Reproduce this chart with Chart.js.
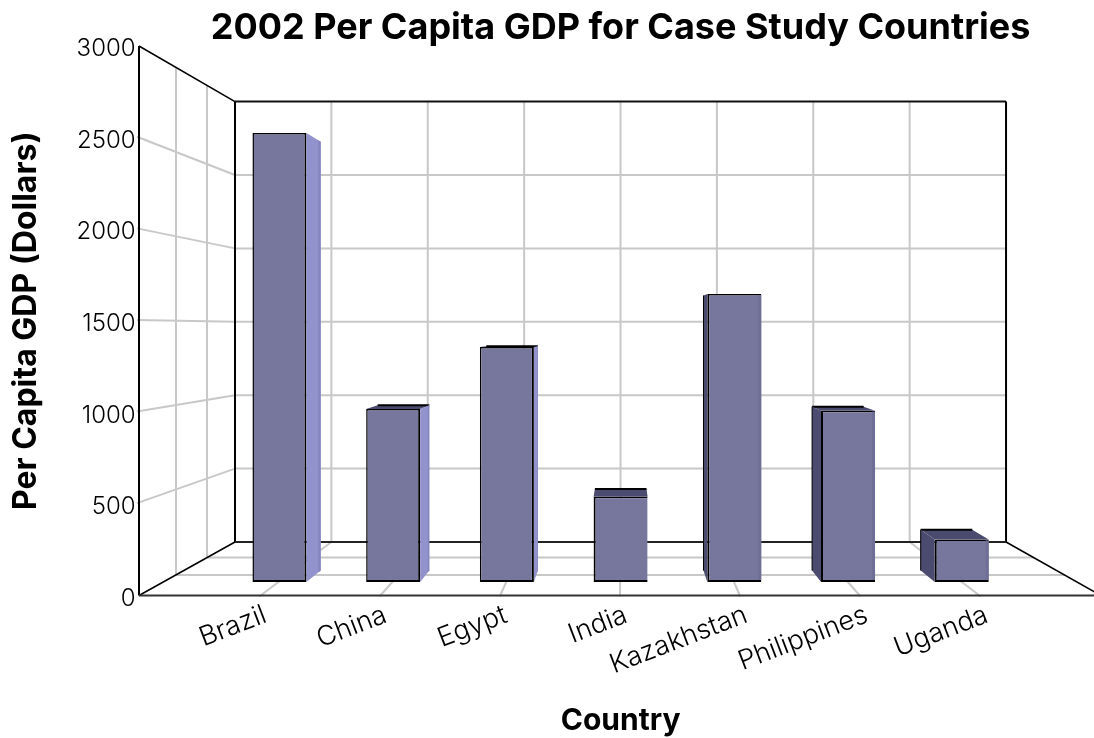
<!DOCTYPE html>
<html>
<head>
<meta charset="utf-8">
<title>2002 Per Capita GDP</title>
<script src="https://cdn.jsdelivr.net/npm/chart.js@4"></script>
<style>
  html, body { margin: 0; padding: 0; background: #fff; overflow: hidden; }
  canvas { display: block; }
</style>
</head>
<body>
<canvas id="chart-gdp" width="1094" height="738"></canvas>
<script>
/* eslint-disable no-undef */
const countries = ['Brazil', 'China', 'Egypt', 'India', 'Kazakhstan', 'Philippines', 'Uganda']
const gdpPerCapita = [2580, 995, 1350, 490, 1655, 985, 245]
const gdpTicks = [0, 500, 1000, 1500, 2000, 2500, 3000]

const TICK_FONT = 'Inter'
const HEADING_FONT = 'Inter'

// perspective frame: everything recedes towards this point
const vanishX = 622.6
const vanishY = 326
const frontLeft = 139
const frontStep = 120.25
const frontBands = 8
const wallDepths = [1, 0.9235, 0.8594, 0.8015]
const barPlane = 0.95 // depth of the bar front faces
const barBack = 0.955 // bar back face relative to its front face
const sideBand = 0.963 // where the darker back strip of a side face starts

const plotTop = 46
const plotBottom = 595.5
const GRID = '#c8c8c8'

// bars live on a plane behind the front axis, so they get their own y range
function barAxisValue (pixel) {
  const front = (plotBottom - vanishY) - (pixel - vanishY) / barPlane
  return front * gdpTicks[gdpTicks.length - 1] / (plotBottom - plotTop)
}

function toDepth (x, y, depth) {
  return [vanishX + (x - vanishX) * depth, vanishY + (y - vanishY) * depth]
}

function segment (ctx, from, to, color, width) {
  ctx.beginPath()
  ctx.moveTo(from[0], from[1])
  ctx.lineTo(to[0], to[1])
  ctx.strokeStyle = color
  ctx.lineWidth = width
  ctx.stroke()
}

function face (ctx, points, color) {
  ctx.beginPath()
  points.forEach((p, i) => i ? ctx.lineTo(p[0], p[1]) : ctx.moveTo(p[0], p[1]))
  ctx.closePath()
  ctx.fillStyle = color
  ctx.fill()
}

const roomPlugin = {
  id: 'room',
  afterLayout (chart) {
    // the heading is a little wider than the plot, let it overhang both sides
    chart.titleBlock.left -= 20
    chart.titleBlock.right += 20
  },
  beforeDatasetsDraw (chart) {
    const ctx = chart.ctx
    const yAxis = chart.scales.y
    const frontRight = frontLeft + frontStep * frontBands
    const back = wallDepths[wallDepths.length - 1]
    const top = yAxis.getPixelForValue(gdpTicks[gdpTicks.length - 1])
    const bottom = yAxis.getPixelForValue(0)
    const backTL = toDepth(frontLeft, top, back)
    const backBL = toDepth(frontLeft, bottom, back)
    const backBR = toDepth(frontRight, bottom, back)
    const backTR = toDepth(frontRight, top, back)

    ctx.save()
    // grey grid: wall rungs
    gdpTicks.slice(1, -1).forEach(v => {
      const p = yAxis.getPixelForValue(v)
      const b = toDepth(frontLeft, p, back)
      segment(ctx, [frontLeft - 2, p - 0.8], b, GRID, 2)
      segment(ctx, b, [backTR[0], b[1]], GRID, 2)
    })
    // grey grid: uprights on the left wall and rows across the floor
    wallDepths.slice(1, -1).forEach(d => {
      segment(ctx, toDepth(frontLeft, top, d), toDepth(frontLeft, bottom, d), GRID, 2)
      segment(ctx, toDepth(frontLeft, bottom, d), toDepth(frontRight, bottom, d), GRID, 2)
    })
    // grey grid: uprights on the back wall and their floor runs
    for (let k = 1; k < frontBands; k++) {
      const x = frontLeft + frontStep * k
      const b = toDepth(x, bottom, back)
      segment(ctx, [x, bottom + 1], b, GRID, 2)
      segment(ctx, b, toDepth(x, top, back), GRID, 2)
    }
    // black frame
    segment(ctx, [frontLeft, top], backTL, '#000', 1.5)
    segment(ctx, backTL, backTR, '#111', 2)
    segment(ctx, backTL, backBL, '#000', 2)
    segment(ctx, backTR, backBR, '#000', 2)
    segment(ctx, backBL, backBR, '#222', 2)
    segment(ctx, [frontLeft, top], [frontLeft, bottom], '#000', 2)
    segment(ctx, [frontLeft, bottom], backBL, '#000', 1.5)
    segment(ctx, [frontRight, bottom], backBR, '#000', 1.5)
    segment(ctx, [frontLeft, bottom], [frontRight, bottom], '#333', 2)

    // receding faces of each bar, taken from the drawn bar elements
    chart.getDatasetMeta(0).data.forEach(bar => {
      const half = bar.width / 2
      const fl = bar.x - half
      const fr = bar.x + half
      const bl = toDepth(fl, bar.y, barBack)
      const br = toDepth(fr, bar.y, barBack)
      const blBase = toDepth(fl, bar.base, barBack)
      const brBase = toDepth(fr, bar.base, barBack)
      if (bar.y > vanishY) {
        face(ctx, [[fl, bar.y], [fr, bar.y], br, bl], '#4b4b6f')
        segment(ctx, bl, br, '#000', 2)
      }
      if (fr < vanishX) {
        face(ctx, [[fr, bar.y], br, brBase, [fr, bar.base]], '#9292cc')
        const bandTop = toDepth(fr, bar.y, sideBand)
        const bandBase = toDepth(fr, bar.base, sideBand)
        face(ctx, [bandTop, br, brBase, bandBase], '#8686bf')
      }
      if (fl > vanishX) {
        face(ctx, [[fl, bar.y], bl, blBase, [fl, bar.base]], '#4b4b6f')
        segment(ctx, bl, blBase, '#000', 1)
      }
    })
    ctx.restore()
  },
  afterDatasetsDraw (chart) {
    const ctx = chart.ctx
    ctx.save()
    // right-hand bars carry a slightly darker strip on the front face
    chart.getDatasetMeta(0).data.forEach(bar => {
      if (bar.x - bar.width / 2 > vanishX) {
        ctx.fillStyle = '#6f6f96'
        ctx.fillRect(bar.x + bar.width / 2 - 3, bar.y + 1, 3, bar.base - bar.y - 3)
      }
    })
    // country names sit on the front edge of the floor, tilted
    ctx.font = '300 27px ' + TICK_FONT
    ctx.fillStyle = '#000'
    ctx.textAlign = 'right'
    ctx.textBaseline = 'middle'
    countries.forEach((name, i) => {
      ctx.save()
      ctx.translate(frontLeft + frontStep * (i + 1) + 6, 614)
      ctx.rotate(-21 * Math.PI / 180)
      ctx.fillText(name, 0, 0)
      ctx.restore()
    })
    ctx.restore()
  }
}

const gdpChart = new Chart(document.getElementById('chart-gdp').getContext('2d'), {
  type: 'bar',
  data: {
    labels: countries,
    datasets: [{
      label: 'Per Capita GDP',
      data: gdpPerCapita,
      yAxisID: 'yBars',
      backgroundColor: '#77779d',
      borderColor: '#000',
      borderSkipped: false,
      borderWidth: ctx => {
        const leftOfEye = ctx.dataIndex < 3
        return { top: 1.5, bottom: 2, left: leftOfEye ? 1.5 : 2, right: leftOfEye ? 2 : 0 }
      },
      barPercentage: 0.475,
      categoryPercentage: 1
    }]
  },
  plugins: [roomPlugin],
  options: {
    responsive: false,
    animation: false,
    layout: { padding: { right: 75.4 } },
    plugins: {
      legend: { display: false },
      tooltip: { enabled: false },
      title: {
        display: true,
        fullSize: false,
        text: '2002 Per Capita GDP for Case Study Countries',
        color: '#000',
        font: { family: HEADING_FONT, size: 36, weight: 'bold', lineHeight: 1 },
        padding: { top: 10, bottom: 0 }
      }
    },
    scales: {
      x: {
        grid: { display: false },
        border: { display: false },
        ticks: { display: false },
        afterFit: scale => { scale.height = 738 - plotBottom },
        title: {
          display: true,
          text: 'Country',
          color: '#000',
          font: { family: HEADING_FONT, size: 30, weight: 'bold', lineHeight: 1 },
          padding: { top: 0, bottom: 2 }
        }
      },
      y: {
        min: gdpTicks[0],
        max: gdpTicks[gdpTicks.length - 1],
        grid: { display: false, drawTicks: false },
        border: { display: false },
        afterFit: scale => {
          scale.width = 222.6
          // the large tick padding below must not push the plot area down
          scale.paddingTop = 0
          scale.paddingBottom = 0
        },
        ticks: {
          stepSize: 500,
          padding: 87,
          labelOffset: 3,
          color: '#000',
          font: { family: TICK_FONT, size: 24, weight: '300' },
          callback: value => String(value)
        },
        title: {
          display: true,
          text: 'Per Capita GDP (Dollars)',
          color: '#000',
          font: { family: HEADING_FONT, size: 32, weight: 'bold', lineHeight: 1 },
          padding: { top: 10, bottom: 0 }
        }
      },
      yBars: {
        display: false,
        position: 'left',
        min: barAxisValue(plotBottom),
        max: barAxisValue(plotTop)
      }
    }
  }
})
</script>
</body>
</html>
